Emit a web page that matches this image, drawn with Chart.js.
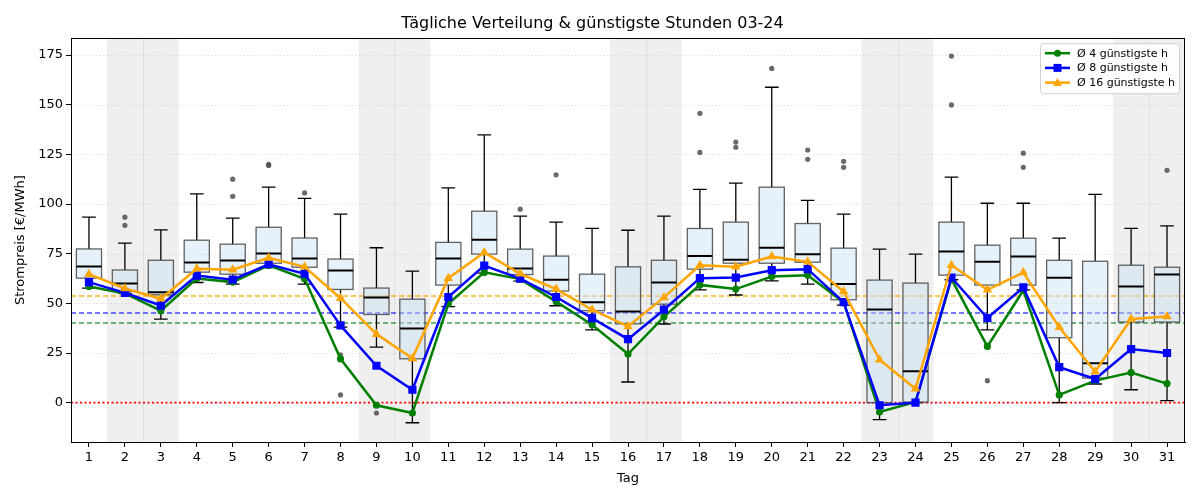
<!DOCTYPE html>
<html><head><meta charset="utf-8">
<script src="https://cdn.jsdelivr.net/npm/chart.js@4.4.1/dist/chart.umd.min.js"></script>
<style>html,body{margin:0;padding:0;background:#fff}#wrap{width:1200px;height:500px;position:relative}canvas{display:block}</style>
</head><body><div id="wrap"><canvas id="c" width="1200" height="500" style="width:1200px;height:500px"></canvas></div>
<script>
const days = [1,2,3,4,5,6,7,8,9,10,11,12,13,14,15,16,17,18,19,20,21,22,23,24,25,26,27,28,29,30,31];
const whiskerHigh = [93.4,80.3,87.0,105.1,92.9,108.5,102.9,94.9,78.0,66.2,108.1,134.8,93.9,90.9,87.8,86.8,93.9,107.4,110.5,158.8,101.9,94.9,77.3,74.8,113.6,100.4,100.4,82.8,104.9,87.8,89.0];
const q3 = [77.4,66.8,71.7,81.8,79.8,88.3,82.9,72.3,57.7,52.1,80.7,96.4,77.3,73.8,64.7,68.4,71.7,87.7,90.9,108.5,90.2,77.8,61.7,60.2,90.9,79.3,82.8,71.7,71.2,69.2,68.2];
const medians = [68.5,60.0,55.6,70.6,71.6,75.1,72.6,66.5,53.0,37.4,72.6,82.0,67.5,61.9,50.5,45.9,60.5,73.9,71.9,78.0,74.7,59.8,46.9,15.8,76.1,70.9,73.6,62.9,19.8,58.5,64.5];
const q1 = [62.7,56.0,54.3,65.7,64.7,70.2,68.2,57.0,44.4,22.1,59.2,74.8,64.5,56.2,46.3,39.7,49.6,67.2,70.2,70.2,70.7,51.8,0.0,0.3,64.2,59.2,59.2,32.7,12.4,40.6,40.6];
const whiskerLow = [57.7,55.0,42.1,60.5,59.7,68.5,59.7,38.0,28.0,-10.1,48.4,65.2,61.2,48.8,36.7,10.4,39.6,56.8,54.2,61.3,59.7,49.1,-8.5,0.0,61.9,36.7,56.8,0.0,9.4,6.5,1.0];
const outlierDays = [2,2,5,5,6,6,7,8,8,9,9,13,14,18,18,19,19,20,21,21,22,22,25,25,26,27,27,31];
const outlierValues = [93.4,89.3,112.5,103.9,119.4,120.0,105.6,24.1,3.9,-1.0,-5.2,97.4,114.7,145.7,126.0,131.2,128.6,168.3,127.2,122.5,121.5,118.5,174.5,149.9,11.1,125.6,118.5,117.0];
const avg4 = [58.5,55.0,46.3,62.5,60.7,69.1,62.4,22.1,-1.3,-5.2,49.8,65.6,62.2,50.9,39.2,24.5,43.2,59.3,57.2,63.5,64.2,50.6,-4.7,0.3,62.2,28.3,56.5,3.9,11.1,15.2,9.6];
const avg8 = [60.7,55.3,48.9,64.0,61.9,69.7,64.9,38.9,18.6,6.5,53.2,69.0,62.5,53.2,42.6,32.0,46.8,62.7,63.0,66.7,67.2,50.6,-1.3,0.0,63.0,42.6,58.0,17.9,11.9,27.0,25.0];
const avg16 = [64.7,57.5,52.3,67.4,66.9,72.9,68.4,52.6,34.5,22.3,62.7,75.6,64.9,57.2,46.8,38.4,53.0,69.2,68.4,73.6,70.9,56.0,21.6,7.0,69.2,56.8,65.5,38.0,15.6,42.1,43.4];
const monthMean4 = 40.2, monthMean8 = 45.3, monthMean16 = 53.8;
const weekendDays = [2,3,9,10,16,17,23,24,30,31];
const yTicks = [0,25,50,75,100,125,150,175];
const seriesLabels = ['Ø 4 günstigste h','Ø 8 günstigste h','Ø 16 günstigste h'];
const titleText = 'Tägliche Verteilung & günstigste Stunden 03-24';

const GREEN = '#008000', BLUE = '#0000ff', ORANGE = '#ffa500';
Chart.defaults.font.family = "'DejaVu Sans', sans-serif";
Chart.defaults.color = '#000';

const pts = arr => days.map((d, i) => ({x: d, y: arr[i]}));

const backPlugin = {
  id: 'back',
  beforeDatasetsDraw(chart) {
    const {ctx, chartArea: a, scales: {x, y}} = chart;
    ctx.save();
    ctx.beginPath(); ctx.rect(a.left, a.top, a.width, a.height); ctx.clip();
    ctx.fillStyle = '#efefef';
    weekendDays.forEach(d => {
      const l = x.getPixelForValue(d - 0.5), r = x.getPixelForValue(d + 0.5);
      ctx.fillRect(l, a.top, r - l, a.height);
    });
    ctx.strokeStyle = '#dedede'; ctx.lineWidth = 1;
    weekendDays.forEach(d => {
      if (weekendDays.includes(d + 1)) {
        const px = Math.round(x.getPixelForValue(d + 0.5)) + 0.5;
        ctx.beginPath(); ctx.moveTo(px, a.top); ctx.lineTo(px, a.bottom); ctx.stroke();
      }
    });
    ctx.strokeStyle = '#d0d0d0'; ctx.lineWidth = 0.8; ctx.setLineDash([1.2, 2.4]);
    yTicks.forEach(v => {
      const py = Math.round(y.getPixelForValue(v)) + 0.5;
      ctx.beginPath(); ctx.moveTo(a.left, py); ctx.lineTo(a.right, py); ctx.stroke();
    });
    [[monthMean16, 'rgba(255,165,0,0.85)'], [monthMean8, 'rgba(40,40,255,0.85)'], [monthMean4, 'rgba(20,130,20,0.8)']].forEach(([v, c]) => {
      const py = Math.round(y.getPixelForValue(v));
      ctx.strokeStyle = c; ctx.lineWidth = 1.5; ctx.setLineDash([5, 3]);
      ctx.beginPath(); ctx.moveTo(a.left, py); ctx.lineTo(a.right, py); ctx.stroke();
    });
    ctx.strokeStyle = '#ff0000'; ctx.lineWidth = 1.8; ctx.setLineDash([2, 2.5]);
    const pz = y.getPixelForValue(0);
    ctx.beginPath(); ctx.moveTo(a.left, pz); ctx.lineTo(a.right, pz); ctx.stroke();
    ctx.setLineDash([]);
    days.forEach((d, i) => {
      const cx = x.getPixelForValue(d);
      const hw = x.getPixelForValue(d + 0.35) - cx;
      const cw = x.getPixelForValue(d + 0.19) - cx;
      const yHi = y.getPixelForValue(whiskerHigh[i]), yQ3 = y.getPixelForValue(q3[i]);
      const yMed = y.getPixelForValue(medians[i]), yQ1 = y.getPixelForValue(q1[i]);
      const yLo = y.getPixelForValue(whiskerLow[i]);
      ctx.strokeStyle = '#000'; ctx.lineWidth = 1.3;
      ctx.beginPath();
      ctx.moveTo(cx, yQ3); ctx.lineTo(cx, yHi);
      ctx.moveTo(cx - cw, yHi); ctx.lineTo(cx + cw, yHi);
      ctx.moveTo(cx, yQ1); ctx.lineTo(cx, yLo);
      ctx.moveTo(cx - cw, yLo); ctx.lineTo(cx + cw, yLo);
      ctx.stroke();
      ctx.fillStyle = 'rgba(200,225,245,0.45)';
      ctx.fillRect(cx - hw, yQ3, 2 * hw, yQ1 - yQ3);
      ctx.strokeStyle = 'rgba(70,70,70,0.85)'; ctx.lineWidth = 1.3;
      ctx.strokeRect(cx - hw, yQ3, 2 * hw, yQ1 - yQ3);
      ctx.strokeStyle = '#000'; ctx.lineWidth = 2;
      ctx.beginPath(); ctx.moveTo(cx - hw, yMed); ctx.lineTo(cx + hw, yMed); ctx.stroke();
    });
    ctx.restore();
  },
  afterDraw(chart) {
    const {ctx, chartArea: a} = chart;
    ctx.save();
    ctx.strokeStyle = '#000'; ctx.lineWidth = 1;
    ctx.strokeRect(Math.round(a.left) + 0.5, Math.round(a.top) + 0.5, Math.round(a.width) - 1, Math.round(a.height));
    const W = 139, H = 50;
    const lx = a.right - 6 - W, ly = a.top + 5;
    ctx.beginPath();
    if (ctx.roundRect) ctx.roundRect(lx + 0.5, ly + 0.5, W, H, 3); else ctx.rect(lx + 0.5, ly + 0.5, W, H);
    ctx.fillStyle = 'rgba(255,255,255,0.85)'; ctx.fill();
    ctx.strokeStyle = '#d0d0d0'; ctx.lineWidth = 1; ctx.stroke();
    const cols = [GREEN, BLUE, ORANGE], shapes = ['circle', 'rect', 'triangle'];
    ctx.font = "11px 'DejaVu Sans', sans-serif"; ctx.textBaseline = 'middle'; ctx.textAlign = 'left';
    for (let k = 0; k < 3; k++) {
      const yy = ly + 10 + k * 14.7;
      ctx.strokeStyle = cols[k]; ctx.lineWidth = 2.5;
      ctx.beginPath(); ctx.moveTo(lx + 5, yy); ctx.lineTo(lx + 30, yy); ctx.stroke();
      const mx = lx + 17.5;
      ctx.fillStyle = cols[k];
      ctx.beginPath();
      if (shapes[k] === 'circle') ctx.arc(mx, yy, 3.5, 0, Math.PI * 2);
      else if (shapes[k] === 'rect') ctx.rect(mx - 4, yy - 4, 8, 8);
      else { ctx.moveTo(mx, yy - 4.5); ctx.lineTo(mx + 4.5, yy + 3.5); ctx.lineTo(mx - 4.5, yy + 3.5); ctx.closePath(); }
      ctx.fill();
      ctx.fillStyle = '#000';
      ctx.fillText(seriesLabels[k], lx + 37, yy + 0.5);
    }
    ctx.restore();
  }
};

new Chart(document.getElementById('c'), {
  data: {
    datasets: [
      {type: 'line', label: seriesLabels[2], data: pts(avg16), borderColor: ORANGE, backgroundColor: ORANGE, borderWidth: 2.5, pointStyle: 'triangle', pointRadius: 5.5, pointBorderWidth: 0, order: 1},
      {type: 'line', label: seriesLabels[1], data: pts(avg8), borderColor: BLUE, backgroundColor: BLUE, borderWidth: 2.5, pointStyle: 'rect', pointRadius: 5.8, pointBorderWidth: 0, order: 2},
      {type: 'line', label: seriesLabels[0], data: pts(avg4), borderColor: GREEN, backgroundColor: GREEN, borderWidth: 2.5, pointStyle: 'circle', pointRadius: 3.6, pointBorderWidth: 0, order: 3},
      {type: 'scatter', label: 'Ausreißer', data: outlierDays.map((d, i) => ({x: d, y: outlierValues[i]})), backgroundColor: 'rgba(80,80,80,0.85)', borderWidth: 0, pointRadius: 2.6, order: 4}
    ]
  },
  options: {
    responsive: false, animation: false, devicePixelRatio: 1,
    layout: {padding: {left: 0, right: 15, top: 0, bottom: 0}},
    plugins: {
      legend: {display: false}, tooltip: {enabled: false},
      title: {display: true, text: titleText, font: {size: 16, weight: 'normal'}, color: '#000', padding: {top: 14, bottom: 5}}
    },
    scales: {
      x: {
        type: 'linear', min: 0.5, max: 31.5,
        afterBuildTicks: s => { s.ticks = days.map(v => ({value: v})); },
        afterFit: s => { s.height = 58; },
        ticks: {font: {size: 13}, color: '#000', autoSkip: false, maxRotation: 0, padding: 3},
        grid: {drawOnChartArea: false, tickLength: 5, tickColor: '#000', tickWidth: 1},
        border: {color: '#000', width: 1},
        title: {display: true, text: 'Tag', font: {size: 13}, color: '#000', padding: {top: 0, bottom: 14}}
      },
      y: {
        type: 'linear', min: -19.8, max: 183.5,
        afterBuildTicks: s => { s.ticks = yTicks.map(v => ({value: v})); },
        afterFit: s => { s.width = 71; },
        ticks: {font: {size: 13}, color: '#000', padding: 3},
        grid: {drawOnChartArea: false, tickLength: 5, tickColor: '#000', tickWidth: 1},
        border: {color: '#000', width: 1},
        title: {display: true, text: 'Strompreis [€/MWh]', font: {size: 13}, color: '#000', padding: {top: 13, bottom: 0}}
      }
    }
  },
  plugins: [backPlugin]
});
</script>
</body></html>
